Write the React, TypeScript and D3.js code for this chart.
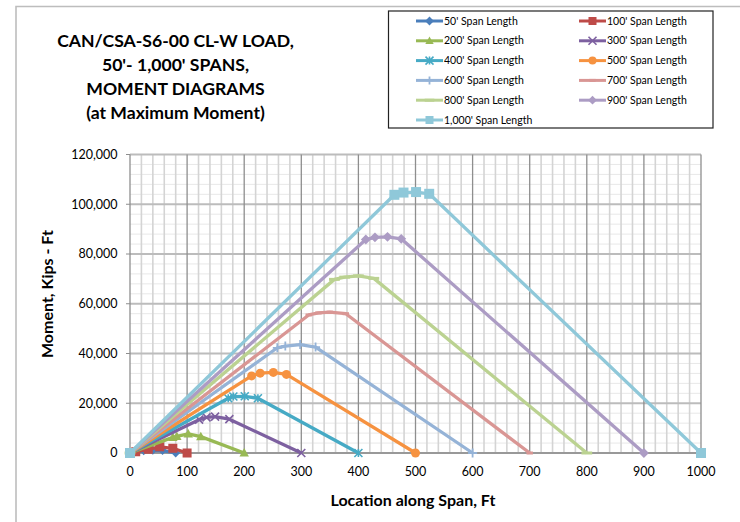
import React from 'react';
import * as d3 from 'd3';

// ---- Data ----
const seriesNames = [
  "50' Span Length", "100' Span Length", "200' Span Length", "300' Span Length",
  "400' Span Length", "500' Span Length", "600' Span Length", "700' Span Length",
  "800' Span Length", "900' Span Length", "1,000' Span Length",
];
const loc50 = [0, 24, 40, 57, 80];
const mom50 = [0, 900, 1100, 1000, 0];
const loc100 = [0, 10, 32, 52, 75, 100];
const mom100 = [0, 500, 1500, 2500, 1900, 0];
const loc200 = [0, 75, 82, 102, 124, 200];
const mom200 = [0, 6300, 6700, 7700, 6600, 0];
const loc300 = [0, 121, 134, 149, 174, 300];
const mom300 = [0, 13400, 14300, 14600, 13600, 0];
const loc400 = [0, 172, 181, 201, 224, 400];
const mom400 = [0, 22000, 22700, 22800, 22000, 0];
const loc500 = [0, 213, 228, 251, 274, 500];
const mom500 = [0, 31000, 32100, 32400, 31600, 0];
const loc600 = [0, 258, 272, 298, 325, 600];
const mom600 = [0, 42300, 43000, 43600, 42600, 0];
const loc700 = [0, 313, 330, 350, 378, 700];
const mom700 = [0, 55500, 56300, 56600, 56000, 0];
const loc800 = [0, 358, 376, 400, 427, 800];
const mom800 = [0, 69800, 70700, 71200, 70200, 0];
const loc900 = [0, 413, 429, 451, 475, 900];
const mom900 = [0, 85800, 86700, 86900, 86100, 0];
const loc1000 = [0, 463, 479, 501, 524, 1000];
const mom1000 = [0, 103800, 104700, 104900, 104200, 0];

const xTicks = [0, 100, 200, 300, 400, 500, 600, 700, 800, 900, 1000];
const yTicks = [0, 20000, 40000, 60000, 80000, 100000, 120000];
const titleLines = ['CAN/CSA-S6-00 CL-W LOAD,', "50'- 1,000' SPANS,", 'MOMENT DIAGRAMS', '(at Maximum Moment)'];

// ---- Styles ----
const colors = ['#4A7EBB', '#BE4B48', '#98B954', '#7D60A0', '#46AAC5', '#F69240',
  '#95B3D7', '#D99694', '#BBD291', '#AC9CC4', '#8FC8D9'];
const markers = ['diamond', 'square', 'triangle', 'x', 'star', 'circle', 'plus', 'dash', 'longdash', 'diamond', 'square'];
const markerSizes = [8, 9, 9, 8, 8, 9, 9, 8, 9, 9, 10];

const locs = [loc50, loc100, loc200, loc300, loc400, loc500, loc600, loc700, loc800, loc900, loc1000];
const moms = [mom50, mom100, mom200, mom300, mom400, mom500, mom600, mom700, mom800, mom900, mom1000];

const FONT = 'Lato, "Open Sans", sans-serif';

function Marker({ type, cx, cy, color, s }: { type: string; cx: number; cy: number; color: string; s: number }) {
  const h = s / 2;
  switch (type) {
    case 'diamond':
      return <path d={`M${cx},${cy - h * 1.1}L${cx + h * 1.1},${cy}L${cx},${cy + h * 1.1}L${cx - h * 1.1},${cy}Z`} fill={color} />;
    case 'square':
      return <rect x={cx - h} y={cy - h} width={s} height={s} fill={color} />;
    case 'triangle':
      return <path d={`M${cx},${cy - h * 1.1}L${cx + h * 1.05},${cy + h * 0.8}L${cx - h * 1.05},${cy + h * 0.8}Z`} fill={color} />;
    case 'circle':
      return <circle cx={cx} cy={cy} r={h} fill={color} />;
    case 'x':
      return <path d={`M${cx - h},${cy - h}L${cx + h},${cy + h}M${cx - h},${cy + h}L${cx + h},${cy - h}`} stroke={color} strokeWidth={1.6} fill="none" />;
    case 'star':
      return <path d={`M${cx - h},${cy - h}L${cx + h},${cy + h}M${cx - h},${cy + h}L${cx + h},${cy - h}M${cx},${cy - h}L${cx},${cy + h}`} stroke={color} strokeWidth={1.6} fill="none" />;
    case 'plus':
      return <path d={`M${cx - h},${cy}L${cx + h},${cy}M${cx},${cy - h}L${cx},${cy + h}`} stroke={color} strokeWidth={1.8} fill="none" />;
    case 'dash':
      return <path d={`M${cx - h * 0.8},${cy}L${cx + h * 0.8},${cy}`} stroke={color} strokeWidth={3} fill="none" />;
    case 'longdash':
      return <path d={`M${cx - h * 1.2},${cy}L${cx + h * 1.2},${cy}`} stroke={color} strokeWidth={3} fill="none" />;
    default:
      return null;
  }
}

export default function App() {
  const W = 740, H = 522;
  const x = d3.scaleLinear().domain([0, 1000]).range([130, 701]);
  const y = d3.scaleLinear().domain([0, 120000]).range([453, 154.5]);
  const line = d3.line<[number, number]>().x(d => x(d[0])).y(d => y(d[1]));

  const minorX = d3.range(0, 1001, 20).filter(v => v % 100 !== 0);
  const minorY = d3.range(0, 120001, 4000).filter(v => v % 20000 !== 0);
  const fmt = d3.format(',');

  const series = seriesNames.map((name, i) => ({
    name,
    color: colors[i],
    marker: markers[i],
    size: markerSizes[i],
    pts: locs[i].map((v, j) => [v, moms[i][j]] as [number, number]),
  }));

  return (
    <svg width={W} height={H} style={{ position: 'absolute', left: 0, top: 0, background: '#fff' }} fontFamily={FONT}>
      <rect x={0} y={0} width={W} height={H} fill="#fff" />
      {/* chart area border */}
      <path d={`M16,${H}L16,6.5L${W},6.5`} stroke="#BDBDBD" strokeWidth={1.6} fill="none" />

      {/* minor grid */}
      {minorY.map(v => (
        <line key={'my' + v} x1={x(0)} x2={x(1000)} y1={y(v)} y2={y(v)} stroke="#E8E8E8" strokeWidth={1} />
      ))}
      {minorX.map(v => (
        <line key={'mx' + v} x1={x(v)} x2={x(v)} y1={y(0)} y2={y(120000)} stroke="#D4D4D4" strokeWidth={1.6} />
      ))}
      {/* major grid */}
      {yTicks.map(v => (
        <line key={'gy' + v} x1={x(0)} x2={x(1000)} y1={y(v)} y2={y(v)} stroke="#BCBCBC" strokeWidth={1.8} />
      ))}
      {xTicks.map(v => (
        <line key={'gx' + v} x1={x(v)} x2={x(v)} y1={y(0)} y2={y(120000)} stroke="#8E8E8E" strokeWidth={1.3} />
      ))}
      <line x1={x(0)} x2={x(1000)} y1={y(0)} y2={y(0)} stroke="#8E8E8E" strokeWidth={1.3} />
      {/* y ticks */}
      {yTicks.map(v => (
        <line key={'ty' + v} x1={x(0) - 4} x2={x(0)} y1={y(v)} y2={y(v)} stroke="#8E8E8E" strokeWidth={1} />
      ))}

      {/* tick labels */}
      {yTicks.map(v => (
        <text key={'ly' + v} x={117.5} y={y(v) + 4.3} textAnchor="end" fontSize={12.5} fill="#000">{fmt(v)}</text>
      ))}
      {xTicks.map(v => (
        <text key={'lx' + v} x={x(v)} y={476} textAnchor="middle" fontSize={12.5} fill="#000">{v}</text>
      ))}

      {/* series */}
      {series.map((s, i) => (
        <g key={'s' + i}>
          <path d={line(s.pts) || ''} fill="none" stroke={s.color} strokeWidth={3.3} strokeLinejoin="round" />
          {s.pts.map((p, j) => (
            <Marker key={j} type={s.marker} cx={x(p[0])} cy={y(p[1])} color={s.color} s={s.size} />
          ))}
        </g>
      ))}

      {/* axis titles */}
      <text transform="translate(53,294) rotate(-90)" textAnchor="middle" fontSize={16} fontWeight="bold">Moment, Kips - Ft</text>
      <text x={413} y={506} textAnchor="middle" fontSize={16} fontWeight="bold">Location along Span, Ft</text>

      {/* title */}
      {titleLines.map((t, i) => (
        <text key={'t' + i} x={175.5} y={46.5 + i * 24} textAnchor="middle" fontSize={17.6} fontWeight="bold">{t}</text>
      ))}

      {/* legend */}
      <rect x={388.5} y={11} width={324.5} height={117} fill="#fff" stroke="#222" strokeWidth={1.2} />
      {series.map((s, i) => {
        const col = i % 2, row = Math.floor(i / 2);
        const lx = col === 0 ? 416 : 579;
        const ly = 21 + row * 19.8;
        return (
          <g key={'lg' + i}>
            <line x1={lx} x2={lx + 27} y1={ly} y2={ly} stroke={s.color} strokeWidth={3} />
            <Marker type={s.marker} cx={lx + 13.5} cy={ly} color={s.color} s={Math.min(s.size, 8)} />
            <text x={lx + 28} y={ly + 3.5} fontSize={10.5} fill="#000">{s.name}</text>
          </g>
        );
      })}
    </svg>
  );
}
